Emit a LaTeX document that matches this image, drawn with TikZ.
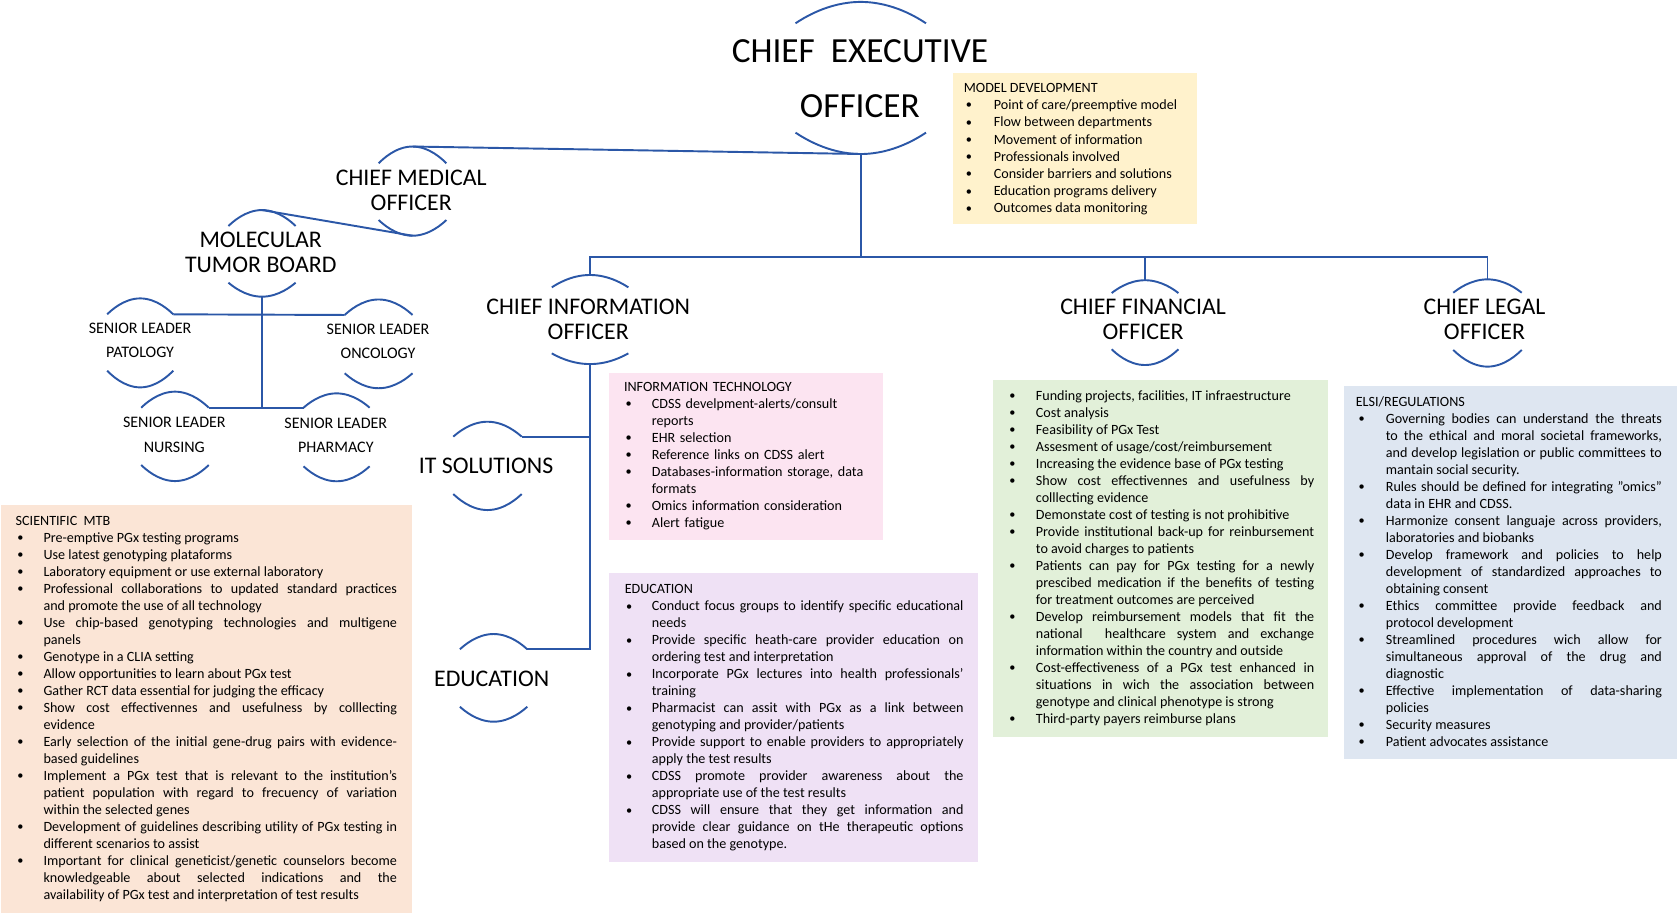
\documentclass[tikz,border=0pt]{standalone}
\usepackage{fontspec}
\setmainfont{Carlito}
\newlength\bind \newlength\boff
\newcommand\bul{\raisebox{0.6pt}{\fontsize{11.5}{11.5}\selectfont\textbullet}}
\newcommand\bi[1]{\par\hangindent=\bind\hangafter=1\noindent\hbox to\bind{\hspace*{\boff}\bul\hfil}\strut#1}
\newcommand\setind[2]{\setlength\bind{#1pt}\setlength\boff{#2pt}\hyphenpenalty=10000 \lefthyphenmin=62 \righthyphenmin=62 \tolerance=9999 }
\newcommand\lb{\linebreak}
\newcommand\ovarcs[7]{%
  \coordinate (#1-t) at (#2,#5);
  \coordinate (#1-b) at (#2,#7);
  \coordinate (#1-tl) at ({#2-#3},#4);
  \coordinate (#1-tr) at ({#2+#3},#4);
  \coordinate (#1-bl) at ({#2-#3},#6);
  \coordinate (#1-br) at ({#2+#3},#6);
  \draw[conn] (#1-tl) parabola bend (#1-t) (#1-tr);
  \draw[conn] (#1-bl) parabola bend (#1-b) (#1-br);
}
\definecolor{lineblue}{HTML}{2B57A7}
\definecolor{myellow}{HTML}{FFF2CC}
\definecolor{mpeach}{HTML}{FBE5D6}
\definecolor{mpink}{HTML}{FCE4F1}
\definecolor{mlav}{HTML}{EFE1F5}
\definecolor{mgreen}{HTML}{E2F0D9}
\definecolor{mblue}{HTML}{DEE6F1}
\tikzset{
  conn/.style={draw=lineblue, line width=1.8pt},
  ceolbl/.style={font=\fontsize{33}{52}\selectfont, align=center, inner sep=0pt},
  lbl/.style={font=\fontsize{22.3}{23.3}\selectfont, align=center, inner sep=0pt},
  sml/.style={font=\fontsize{15}{23}\selectfont, align=center, inner sep=0pt},
  txt/.style={font=\fontsize{13.2}{15.9}\selectfont, align=justify, inner sep=0pt, anchor=north west},
}
\begin{document}
\begin{tikzpicture}[x=1pt, y=-1pt]
\useasboundingbox (0,0) rectangle (1568,856);
% ---- coloured boxes
\fill[myellow] (891,68) rectangle (1119,209.4);
\fill[mpeach] (1,472) rectangle (385,853.7);
\fill[mpink] (569.7,348.5) rectangle (825.3,504.9);
\fill[mlav] (569.7,535.5) rectangle (914.8,805.7);
\fill[mgreen] (928.8,355.3) rectangle (1242,688.8);
\fill[mblue] (1256.7,361) rectangle (1568,710);

% ---- label nodes
\node[ceolbl] (ceo) at (804,73.7) {CHIEF\ \ EXECUTIVE\\OFFICER};
\node[lbl] (cmo) at (384.5,178.4) {CHIEF MEDICAL\\OFFICER};
\node[lbl] (mtb) at (243.8,235.8) {MOLECULAR\\TUMOR BOARD};
\node[lbl] (cio) at (550,298.4) {CHIEF INFORMATION\\OFFICER};
\node[lbl] (cfo) at (1068.8,298.3) {CHIEF FINANCIAL\\OFFICER};
\node[lbl] (clo) at (1388,298.3) {CHIEF LEGAL\\OFFICER};
\node[lbl] (its) at (454.5,435.4) {IT SOLUTIONS};
\node[lbl] (edu) at (459.7,634.3) {EDUCATION};
\node[sml] (pat) at (131,318.4) {SENIOR LEADER\\PATOLOGY};
\node[sml] (onc) at (353.5,319) {SENIOR LEADER\\ONCOLOGY};
\node[sml] (nur) at (163,406.4) {SENIOR LEADER\\NURSING};
\node[sml] (pha) at (314,407) {SENIOR LEADER\\PHARMACY};

% ---- arcs around labels
\ovarcs{ceo}{804.8}{61}{21.8}{1.8}{124}{144}
\ovarcs{cmo}{385.7}{31.7}{152.7}{137}{205.7}{220.4}
\ovarcs{mtb}{245}{31.4}{211.3}{196.4}{264.3}{277.4}
\ovarcs{cio}{551.7}{35.8}{268.7}{257.1}{330.4}{340.4}
\ovarcs{cfo}{1070.6}{31.2}{274}{262}{326.6}{341.3}
\ovarcs{clo}{1390.8}{32}{273.7}{261.2}{327.2}{342.8}
\ovarcs{its}{455.8}{32}{408.3}{394.3}{461.9}{476.9}
\ovarcs{edu}{461.5}{31.5}{607.1}{592.8}{660.8}{674.8}
\ovarcs{pat}{131.1}{30.9}{293.9}{279}{346.6}{362.2}
\ovarcs{onc}{354}{31.7}{294.5}{280}{349}{363}
\ovarcs{nur}{163.6}{31.6}{381.2}{366.2}{434.8}{449.8}
\ovarcs{pha}{314.7}{30.9}{381.2}{367.8}{436}{450}

% ---- connectors
\coordinate (busy) at (0,240);
\draw[conn] (cmo-t) -- (ceo-b);
\draw[conn] (mtb-t) -- (cmo-b);
\draw[conn] (ceo-b) -- (ceo-b |- busy);
\draw[conn] (cio-t) -- (cio-t |- busy) -- (clo-t |- busy) -- (clo-t);
\draw[conn] (cfo-t) -- (cfo-t |- busy);
\draw[conn] (cio-b) |- (edu-tr);
\draw[conn] (its-tr) -- (its-tr -| cio-b);
\draw[conn] (mtb-b) -- (mtb-b |- nur-tr);
\draw[conn] (pat-tr) -- (onc-tl);
\draw[conn] (nur-tr) -- (pha-tl);

% ---- text blocks
\node[txt, font=\fontsize{13.2}{16.1}\selectfont, text width=216pt] (modeltxt) at (901,74.9) {\setind{28}{1.8}\strut MODEL DEVELOPMENT
\bi{Point of care/preemptive model}
\bi{Flow between departments}
\bi{Movement of information}
\bi{Professionals involved}
\bi{Consider barriers and solutions}
\bi{Education programs delivery}
\bi{Outcomes data monitoring}\par};

\node[txt, text width=356.5pt] (mtbtxt) at (14.5,479.7) {\setind{26}{1.5}\strut SCIENTIFIC\ \ MTB
\bi{Pre-emptive PGx testing programs}
\bi{Use latest genotyping plataforms}
\bi{Laboratory equipment or use external laboratory}
\bi{Professional collaborations to updated standard practices\lb{} and promote the use of all technology}
\bi{Use chip-based genotyping technologies and multigene\lb{} panels}
\bi{Genotype in a CLIA setting}
\bi{Allow opportunities to learn about PGx test}
\bi{Gather RCT data essential for judging the efficacy}
\bi{Show cost effectivennes and usefulness by colllecting\lb{} evidence}
\bi{Early selection of the initial gene-drug pairs with evidence-\lb{}based guidelines}
\bi{Implement a PGx test that is relevant to the institution’s\lb{} patient population with regard to frecuency of variation\lb{} within the selected genes}
\bi{Development of guidelines describing utility of PGx testing in\lb{} different scenarios to assist}
\bi{Important for clinical geneticist/genetic counselors become\lb{} knowledgeable about selected indications and the\lb{} availability of PGx test and interpretation of test results}\par};

\node[txt, align=left, text width=224pt] (ittxt) at (583.3,354.4) {\setind{26}{1.5}\strut INFORMATION TECHNOLOGY
\bi{CDSS develpment-alerts/consult\newline reports}
\bi{EHR selection}
\bi{Reference links on CDSS alert}
\bi{Databases-information storage, data\newline formats}
\bi{Omics information consideration}
\bi{Alert fatigue}\par};

\node[txt, text width=316.7pt] (edutxt) at (584,543.9) {\setind{25.3}{1.2}\strut EDUCATION
\bi{Conduct focus groups to identify specific educational\lb{} needs}
\bi{Provide specific heath-care provider education on\lb{} ordering test and interpretation}
\bi{Incorporate PGx lectures into health professionals’\lb{} training}
\bi{Pharmacist can assit with PGx as a link between\lb{} genotyping and provider/patients}
\bi{Provide support to enable providers to appropriately\lb{} apply the test results}
\bi{CDSS promote provider awareness about the\lb{} appropriate use of the test results}
\bi{CDSS will ensure that they get information and\lb{} provide clear guidance on tHe therapeutic options\lb{} based on the genotype.}\par};

\node[txt, text width=286.6pt] (fintxt) at (942,358.4) {\setind{26.4}{1.5}%
\bi{Funding projects, facilities, IT infraestructure}
\bi{Cost analysis}
\bi{Feasibility of PGx Test}
\bi{Assesment of usage/cost/reimbursement}
\bi{Increasing the evidence base of PGx testing}
\bi{Show cost effectivennes and usefulness by\lb{} colllecting evidence}
\bi{Demonstate cost of testing is not prohibitive}
\bi{Provide institutional back-up for reinbursement\lb{} to avoid charges to patients}
\bi{Patients can pay for PGx testing for a newly\lb{} prescibed medication if the benefits of testing\lb{} for treatment outcomes are perceived}
\bi{Develop reimbursement models that fit the\lb{} national\ \ healthcare system and exchange\lb{} information within the country and outside}
\bi{Cost-effectiveness of a PGx test enhanced in\lb{} situations in wich the association between\lb{} genotype and clinical phenotype is strong}
\bi{Third-party payers reimburse plans}\par};

\node[txt, text width=286.2pt] (legtxt) at (1267.5,368.5) {\setind{28.1}{2.5}\strut ELSI/REGULATIONS
\bi{Governing bodies can understand the threats\lb{} to the ethical and moral societal frameworks,\lb{} and develop legislation or public committees to\lb{} mantain social security.}
\bi{Rules should be defined for integrating ”omics”\lb{} data in EHR and CDSS.}
\bi{Harmonize consent languaje across providers,\lb{} laboratories and biobanks}
\bi{Develop framework and policies to help\lb{} development of standardized approaches to\lb{} obtaining consent}
\bi{Ethics committee provide feedback and\lb{} protocol development}
\bi{Streamlined procedures wich allow for\lb{} simultaneous approval of the drug and\lb{} diagnostic}
\bi{Effective implementation of data-sharing\lb{} policies}
\bi{Security measures}
\bi{Patient advocates assistance}\par};
\end{tikzpicture}
\end{document}
